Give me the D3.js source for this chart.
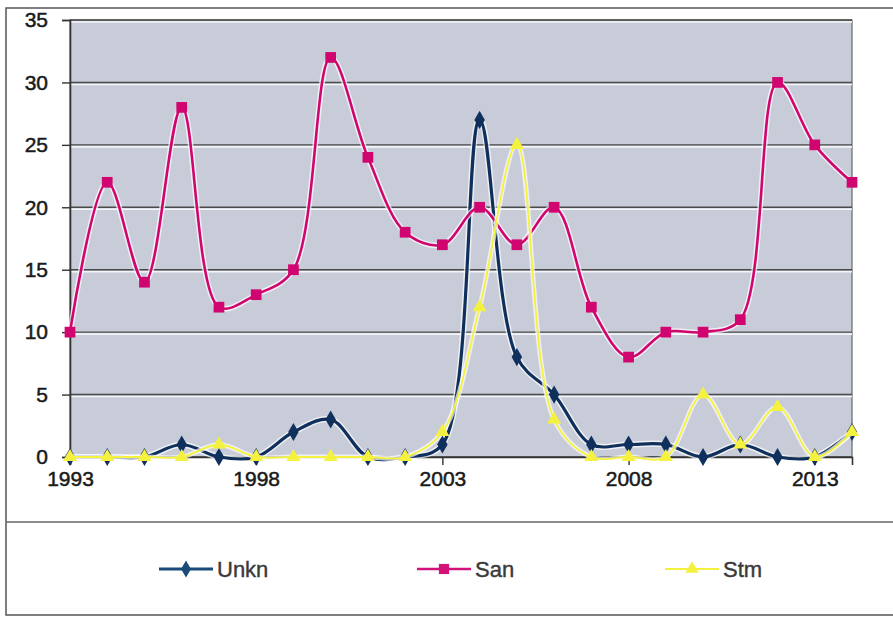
<!DOCTYPE html>
<html><head><meta charset="utf-8">
<script src="https://cdn.jsdelivr.net/npm/d3@7"></script>
<style>body{margin:0;background:#fff}svg{display:block}</style>
</head><body>
<svg id="c" width="893" height="620"></svg>
<script>
const years = d3.range(1993, 2015);
const unkn = [0,0,0,1,0,0,2,3,0,0,1,27,8,5,1,1,1,0,1,0,0,2];
const san  = [10,22,14,28,12,13,15,32,24,18,17,20,17,20,12,8,10,10,11,30,25,22];
const stm  = [0,0,0,0,1,0,0,0,0,0,2,12,25,3,0,0,0,5,1,4,0,2];
const yTicks = [0,5,10,15,20,25,30,35];
const xTickLabels = [1993,1998,2003,2008,2013];
const seriesNames = ["Unkn","San","Stm"];

const svg = d3.select("#c");
const L = 70, R = 852, T = 20, B = 457;
const x = d3.scaleLinear().domain([1993, 2014]).range([L, R]);
const y = d3.scaleLinear().domain([0, 35]).range([B, T]);

// outer frame
svg.append("rect").attr("x",6).attr("y",8).attr("width",900).attr("height",607)
  .attr("fill","#fff").attr("stroke","#555").attr("stroke-width",1.5);
svg.append("line").attr("x1",6).attr("x2",893).attr("y1",522).attr("y2",522)
  .attr("stroke","#666").attr("stroke-width",1.5);

// plot area
svg.append("rect").attr("x",L).attr("y",T).attr("width",R-L).attr("height",B-T)
  .attr("fill","#c8ccd8").attr("stroke","#666").attr("stroke-width",1.2);

// gridlines
const g = svg.append("g");
yTicks.forEach(t => {
  if (t > 0) {
    g.append("line").attr("x1",L).attr("x2",R).attr("y1",y(t)+2).attr("y2",y(t)+2)
      .attr("stroke","#f4f5f8").attr("stroke-width",1.6);
  }
  g.append("line").attr("x1",L).attr("x2",R).attr("y1",y(t)).attr("y2",y(t))
    .attr("stroke","#4a4a4a").attr("stroke-width",1.4);
});

const styleText = sel => sel.attr("font-family","'Liberation Sans', Arial, sans-serif")
  .attr("font-size",21).attr("fill","#1a1a1a").attr("stroke","#1a1a1a").attr("stroke-width",0.5);

// y axis
const yAxis = d3.axisLeft(y).tickValues(yTicks).tickSize(8).tickPadding(14);
const ya = svg.append("g").attr("transform",`translate(${L},0)`).call(yAxis);
ya.select(".domain").attr("stroke","#333").attr("stroke-width",1.6);
ya.selectAll(".tick line").attr("stroke","#333").attr("stroke-width",1.4);
styleText(ya.selectAll("text"));

// x axis
const xAxis = d3.axisBottom(x).tickValues(xTickLabels).tickFormat(d3.format("d")).tickSize(8).tickPadding(6);
const xa = svg.append("g").attr("transform",`translate(0,${B})`).call(xAxis);
xa.select(".domain").attr("stroke","#333").attr("stroke-width",1.6);
xa.selectAll(".tick line").attr("stroke","#333").attr("stroke-width",1.4);
styleText(xa.selectAll("text"));

const curve = d3.curveCatmullRom.alpha(0.5);
const series = [
  {name:seriesNames[0], vals:unkn, color:"#0f2f5c", lcol:"#1a4a7a", w:3.2, sym:d3.symbolDiamond, size:95},
  {name:seriesNames[1], vals:san, color:"#d1056f", lcol:"#d1127a", w:2.6, sym:d3.symbolSquare, size:115},
  {name:seriesNames[2], vals:stm, color:"#f4f23e", lcol:"#f4f23e", w:1.8, sym:d3.symbolTriangle, size:85}
];

series.forEach(s => {
  const pts = years.map((yr,i) => [yr, s.vals[i]]);
  const line = d3.line().x(d=>x(d[0])).y(d=>y(d[1])).curve(curve);
  svg.append("path").attr("d",line(pts)).attr("fill","none")
    .attr("stroke","#fff").attr("stroke-opacity",0.7).attr("stroke-width",s.w+3);
  svg.append("path").attr("d",line(pts)).attr("fill","none")
    .attr("stroke",s.color).attr("stroke-width",s.w);
  svg.append("g").selectAll("path").data(pts).join("path")
    .attr("transform",d=>`translate(${x(d[0])},${y(d[1])})`)
    .attr("d",d3.symbol().type(s.sym).size(s.size))
    .attr("fill",s.color);
});

// legend
const legX = [159, 417, 665];
series.forEach((s,i) => {
  const lg = svg.append("g").attr("transform",`translate(${legX[i]},569)`);
  lg.append("line").attr("x1",0).attr("x2",54).attr("y1",0).attr("y2",0)
    .attr("stroke",s.lcol).attr("stroke-width",s.w);
  lg.append("path").attr("transform","translate(27,0)")
    .attr("d",d3.symbol().type(s.sym).size(s.size*0.9)).attr("fill",s.lcol);
  lg.append("text").attr("x",58).attr("y",8)
    .attr("font-family","'Liberation Sans', Arial, sans-serif")
    .attr("font-size",22).attr("fill","#3a3a3a").attr("stroke","#3a3a3a").attr("stroke-width",0.4)
    .text(s.name);
});
</script>
</body></html>
